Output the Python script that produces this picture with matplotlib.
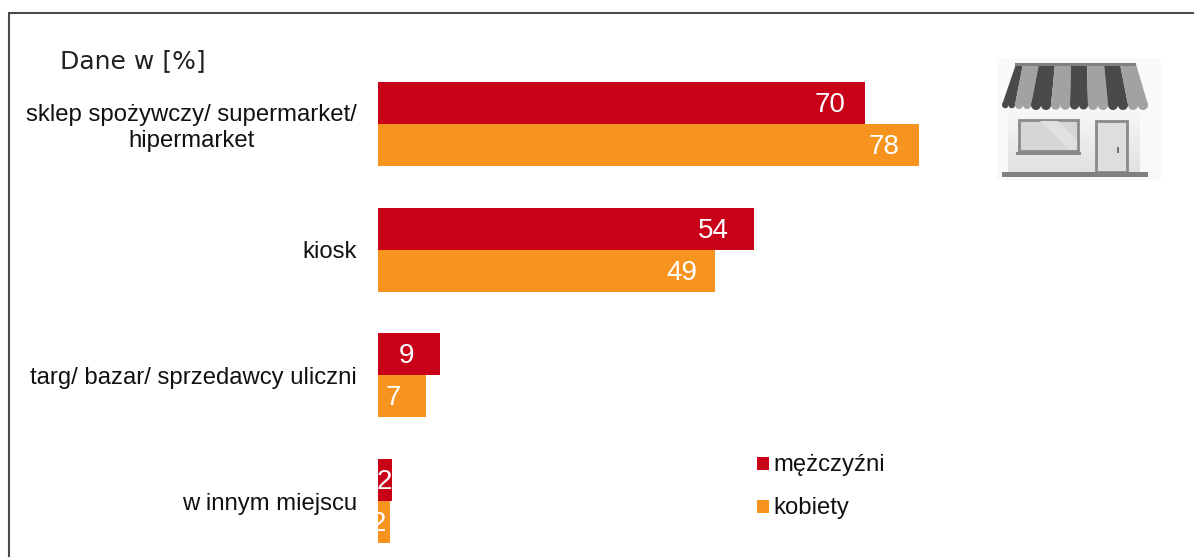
import matplotlib
matplotlib.use("Agg")
import matplotlib.pyplot as plt
from matplotlib.patches import Polygon, Rectangle, Circle
from matplotlib.lines import Line2D
import numpy as np

categories = ["sklep spożywczy/ supermarket/\nhipermarket", "kiosk",
              "targ/ bazar/ sprzedawcy uliczni", "w innym miejscu"]
men = [70.2, 54.2, 9.0, 2.0]
women = [78.0, 48.6, 6.9, 1.8]
series_names = ["mężczyźni", "kobiety"]
RED = "#C80018"
ORANGE = "#F79420"

W, H = 1194, 557
plt.rcParams["font.family"] = ["Liberation Sans", "DejaVu Sans"]
fig = plt.figure(figsize=(W / 100, H / 100), dpi=100)

def axbox(x0, y0, x1, y1):
    return [x0 / W, 1 - y1 / H, (x1 - x0) / W, (y1 - y0) / H]

# outer frame: left and top only, running off the picture
fig.add_artist(Line2D([9 / W, 9 / W, 1], [0, 1 - 13 / H, 1 - 13 / H],
                      color="#4A4A4A", lw=1.5, solid_joinstyle="miter"))

ax = fig.add_axes(axbox(378, 61, 1094, 557))
ax.patch.set_alpha(0)
y = np.arange(len(categories))
h = 42 / 125.75
ax.barh(y - h / 2, men, height=h, color=RED)
ax.barh(y + h / 2, women, height=h, color=ORANGE)
ax.set_xlim(0, 716 / 6.94)
ax.set_ylim(3.5 - 7 / 125.75, -0.5)
for s in ax.spines.values():
    s.set_visible(False)
ax.set_xticks([])
ax.set_yticks(y, categories, fontsize=17.2, color="#111111", ha="right", multialignment="center")
ax.tick_params(axis="y", length=0, pad=15)

# value labels: centred a given number of px in from the bar end
men_inset = [35, 41, 34, 8]
women_inset = [35, 33, 33, 12.5]
PT = 72 / 100
for i in range(len(categories)):
    for val, inset, yy in ((men[i], men_inset[i], i - h / 2), (women[i], women_inset[i], i + h / 2)):
        ax.annotate(f"{val:.0f}", (val, yy), xytext=(-inset * PT, -2 * PT), textcoords="offset points",
                    ha="center", va="center", color="white", fontsize=20, zorder=5)

fig.text(60 / W, 1 - 61 / H, "Dane w [%]", family="DejaVu Sans", fontsize=18, color="#222222",
         va="center", ha="left")

# legend
for name, color, yy in zip(series_names, [RED, ORANGE], [464, 507]):
    fig.add_artist(Rectangle((757 / W, 1 - (yy + 6) / H), 12 / W, 13 / H, color=color,
                             transform=fig.transFigure, lw=0))
    fig.text(773 / W, 1 - (yy + 1) / H, name, fontsize=17.2, color="#111111", va="center", ha="left")

# shop icon (pixel-space inset)
ic = fig.add_axes(axbox(997, 58, 1161, 180))
ic.axis("off")
ic.add_patch(Rectangle((997, 58), 164, 122, color="#F9F9F9", lw=0))
ic.imshow(np.linspace(0.97, 0.88, 30).reshape(-1, 1), extent=(1008, 1140, 172, 108), cmap="gray",
          vmin=0, vmax=1, aspect="auto", zorder=1)
ic.set_xlim(997, 1161)
ic.set_ylim(180, 58)
tops = [1016, 1023, 1039, 1055, 1071, 1087, 1104, 1120, 1136]
bots = [1002, 1015, 1031, 1051, 1070, 1088, 1108, 1128, 1148]
cols = ["#4A4A4A", "#A2A2A2"] * 4
for i, c in enumerate(cols):
    ic.add_patch(Polygon([(tops[i], 64), (tops[i + 1], 64), (bots[i + 1], 105), (bots[i], 105)],
                         color=c, lw=0, zorder=2))
    xs = np.linspace(bots[i], bots[i + 1], 3)
    for a, b in zip(xs[:-1], xs[1:]):
        ic.add_patch(Circle(((a + b) / 2, 105), (b - a) / 2, color=c, lw=0, zorder=2))
ic.add_patch(Rectangle((1015, 63), 121, 3, color="#808080", lw=0, zorder=3))
# window
ic.add_patch(Rectangle((1019, 120), 59, 31, fc="#D6D6D6", ec="#8A8A8A", lw=2, zorder=3))
ic.add_patch(Polygon([(1040, 121), (1058, 121), (1077, 140), (1077, 150), (1070, 150)],
                     color="#E0E0E0", lw=0, zorder=4))
ic.add_patch(Rectangle((1016, 152), 65, 3, color="#8A8A8A", lw=0, zorder=4))
# door
ic.add_patch(Rectangle((1096, 121), 31, 51, fc="#DEDEDE", ec="#8A8A8A", lw=2, zorder=3))
ic.add_patch(Rectangle((1117, 147), 2, 6, color="#707070", lw=0, zorder=4))
# base
ic.add_patch(Rectangle((1002, 172), 146, 5, color="#808080", lw=0, zorder=4))

fig.savefig("out.png", dpi=100, facecolor="white")
